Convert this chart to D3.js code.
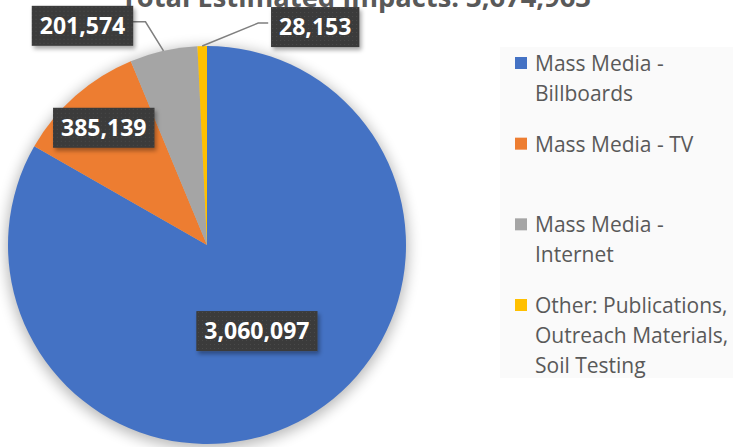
<!DOCTYPE html>
<html>
<head>
<meta charset="utf-8">
<script src="https://cdn.jsdelivr.net/npm/d3@7"></script>
<style>
  body { margin: 0; background: #fff; }
  svg { display: block; }
</style>
</head>
<body>
<div id="chart"></div>
<script>
// data
const categories = ["Mass Media - Billboards", "Mass Media - TV", "Mass Media - Internet",
    "Other: Publications, Outreach Materials, Soil Testing"];
const legendLines = [["Mass Media -", "Billboards"], ["Mass Media - TV"],
    ["Mass Media -", "Internet"], ["Other: Publications,", "Outreach Materials,", "Soil Testing"]];
const impacts = [3060097, 385139, 201574, 28153];
const colors = ["#4472C4", "#ED7D31", "#A5A5A5", "#FFC000"];

const width = 733, height = 447;
const cx = 207, cy = 245, radius = 199;
const fmt = d3.format(",");

let svg = d3.select("#chart").append("svg")
    .attr("width", width)
    .attr("height", height);

let defs = svg.append("defs");

defs.append("filter").attr("id", "pieShadow")
    .attr("x", "-20%").attr("y", "-20%").attr("width", "140%").attr("height", "140%")
    .append("feGaussianBlur").attr("stdDeviation", 7);

let boxShadow = defs.append("filter").attr("id", "boxShadow")
    .attr("x", "-20%").attr("y", "-30%").attr("width", "150%").attr("height", "180%");
boxShadow.append("feDropShadow")
    .attr("dx", 2).attr("dy", 3).attr("stdDeviation", 2)
    .attr("flood-color", "#000").attr("flood-opacity", 0.35);

let dots = defs.append("pattern").attr("id", "dots")
    .attr("width", 4).attr("height", 4).attr("patternUnits", "userSpaceOnUse");
dots.append("rect").attr("width", 4).attr("height", 4).attr("fill", "#3a3a3a");
dots.append("rect").attr("x", 1).attr("y", 1).attr("width", 1).attr("height", 1).attr("fill", "#4d4d4d");

// title, cut off at the top like the source image
let title = svg.append("text")
    .attr("x", 356)
    .attr("y", 7)
    .attr("text-anchor", "middle")
    .attr("font-family", "'Open Sans', sans-serif")
    .attr("font-weight", "bold")
    .attr("font-size", 24)
    .attr("fill", "#595959")
    .text("Total Estimated Impacts: " + fmt(d3.sum(impacts)));
let tw = title.node().getComputedTextLength();
title.attr("font-size", 24 * 470 / tw);

// legend
let legend = svg.append("g").attr("class", "legend");
legend.append("rect")
    .attr("x", 500).attr("y", 47)
    .attr("width", width - 500).attr("height", 331)
    .attr("fill", "#fafafa");

let legendY = d3.scaleLinear().domain([0, 3]).range([71, 313]);

let items = legend.selectAll("g.item")
    .data(categories)
    .enter()
    .append("g")
    .attr("class", "item")
    .attr("transform", (d, i) => `translate(515, ${legendY(i)})`);

items.append("rect")
    .attr("x", 0).attr("y", -14)
    .attr("width", 12).attr("height", 12)
    .attr("fill", (d, i) => colors[i]);

items.append("text")
    .attr("x", 20)
    .attr("font-family", "'Open Sans', sans-serif")
    .attr("font-size", 21)
    .attr("fill", "#595959")
    .selectAll("tspan")
    .data((d, i) => legendLines[i])
    .enter()
    .append("tspan")
    .attr("x", 20)
    .attr("y", (d, j) => j * 30)
    .text(d => d);

// pie
let pie = d3.pie().sort(null).value(d => d);
let arcs = pie(impacts);
let arc = d3.arc().innerRadius(0).outerRadius(radius);

let chart = svg.append("g").attr("transform", `translate(${cx}, ${cy})`);

chart.append("circle")
    .attr("cy", 3)
    .attr("r", radius + 2)
    .attr("fill", "#000")
    .attr("opacity", 0.28)
    .attr("filter", "url(#pieShadow)");

chart.selectAll("path.slice")
    .data(arcs)
    .enter()
    .append("path")
    .attr("class", "slice")
    .attr("d", arc)
    .attr("fill", (d, i) => colors[i]);

// data labels: inside ones sit on a radius, outside ones hang off a leader line
const labelPlace = [
    { inside: 0.5 },
    { inside: 0.785 },
    { dx: -81, dy: -25, elbow: -18 },
    { dx: 113, dy: -19, elbow: 56 }
];

let labels = chart.append("g").attr("class", "labels");

arcs.forEach((a, i) => {
    let p = labelPlace[i];
    let mid = (a.startAngle + a.endAngle) / 2;
    let lx, ly;
    if (p.inside) {
        [lx, ly] = d3.arc().innerRadius(radius * p.inside).outerRadius(radius * p.inside).centroid(a);
    } else {
        let ex = Math.sin(mid) * radius, ey = -Math.cos(mid) * radius;
        lx = ex + p.dx; ly = ey + p.dy;
        labels.append("polyline")
            .attr("points", [[ex, ey], [ex + p.elbow, ly - 4], [lx + (p.dx < 0 ? 50 : -47), ly - 4]].join(" "))
            .attr("fill", "none")
            .attr("stroke", "#7f7f7f")
            .attr("stroke-width", 1.5);
    }
    let g = labels.append("g").attr("transform", `translate(${lx}, ${ly})`);
    let box = g.append("rect").attr("fill", "url(#dots)").attr("filter", "url(#boxShadow)");
    let t = g.append("text")
        .attr("text-anchor", "middle")
        .attr("dy", "0.36em")
        .attr("font-family", "'Open Sans', sans-serif")
        .attr("font-weight", "bold")
        .attr("font-size", 23)
        .attr("fill", "#fff")
        .text(fmt(a.data));
    let w = t.node().getComputedTextLength() + 16;
    box.attr("x", -w / 2).attr("y", -20).attr("width", w).attr("height", 40);
});
</script>
</body>
</html>
